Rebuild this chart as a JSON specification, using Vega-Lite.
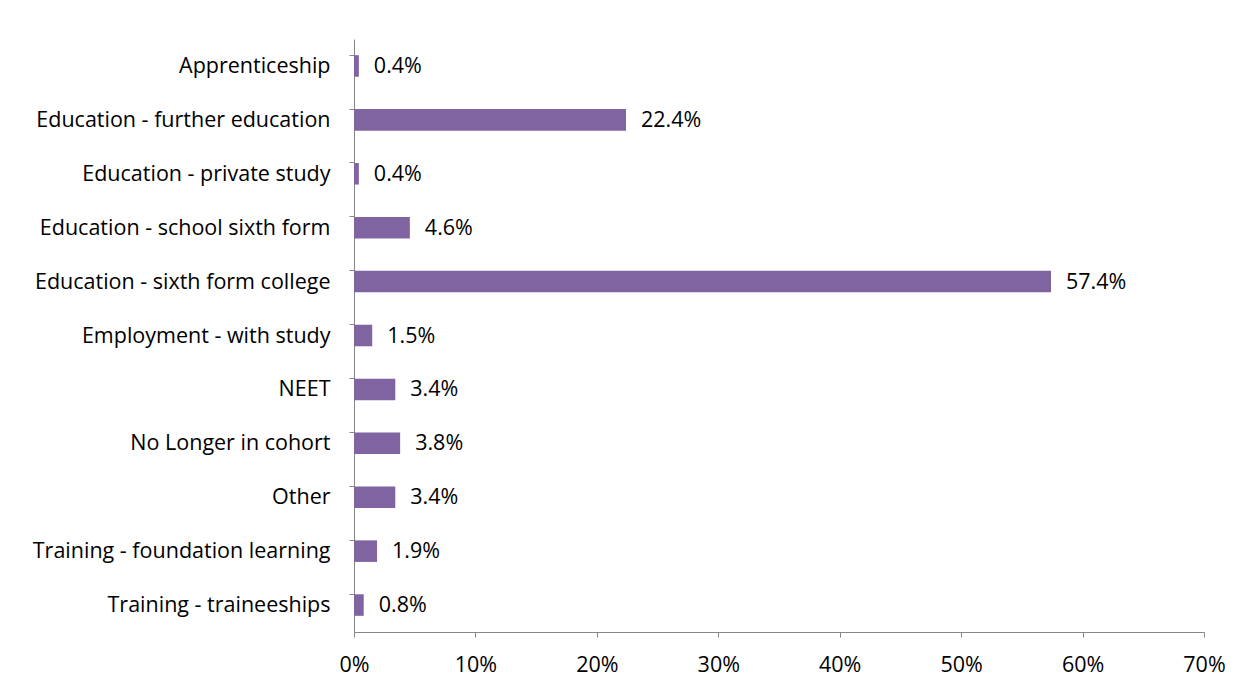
{
  "$schema": "https://vega.github.io/schema/vega-lite/v6.json",
  "width": 850,
  "height": 593,
  "autosize": "none",
  "padding": {"left": 354, "top": 39, "right": 39, "bottom": 59},
  "background": "white",
  "data": {
    "values": [
      {"category": "Apprenticeship", "share": 0.004},
      {"category": "Education - further education", "share": 0.224},
      {"category": "Education - private study", "share": 0.004},
      {"category": "Education - school sixth form", "share": 0.046},
      {"category": "Education - sixth form college", "share": 0.574},
      {"category": "Employment - with study", "share": 0.015},
      {"category": "NEET", "share": 0.034},
      {"category": "No Longer in cohort", "share": 0.038},
      {"category": "Other", "share": 0.034},
      {"category": "Training - foundation learning", "share": 0.019},
      {"category": "Training - traineeships", "share": 0.008}
    ]
  },
  "encoding": {
    "y": {
      "field": "category",
      "type": "nominal",
      "sort": null,
      "scale": {"paddingInner": 0.6, "paddingOuter": 0.3},
      "axis": {
        "title": null,
        "bandPosition": 0,
        "domainColor": "#868686",
        "tickColor": "#868686",
        "tickSize": 5,
        "labelPadding": 19,
        "labelFont": "Open Sans",
        "labelFontSize": 21.5,
        "labelColor": "black",
        "labelLimit": 400,
        "labelOffset": 1,
        "grid": false
      }
    },
    "x": {
      "field": "share",
      "type": "quantitative",
      "scale": {"domain": [0, 0.7], "nice": false},
      "axis": {
        "title": null,
        "format": ".0%",
        "values": [0, 0.1, 0.2, 0.3, 0.4, 0.5, 0.6, 0.7],
        "labelFlush": false,
        "labelOverlap": false,
        "domainColor": "#868686",
        "tickColor": "#868686",
        "tickSize": 5,
        "labelPadding": 17,
        "labelFont": "Open Sans",
        "labelFontSize": 21.5,
        "labelColor": "black",
        "grid": false
      }
    }
  },
  "layer": [
    {"mark": {"type": "bar", "color": "#8064A2"}},
    {
      "mark": {"type": "text", "align": "left", "dx": 15, "dy": 1, "font": "Open Sans", "fontSize": 21.5, "color": "black"},
      "encoding": {"text": {"field": "share", "type": "quantitative", "format": ".1%"}}
    }
  ],
  "config": {"view": {"stroke": null}}
}
